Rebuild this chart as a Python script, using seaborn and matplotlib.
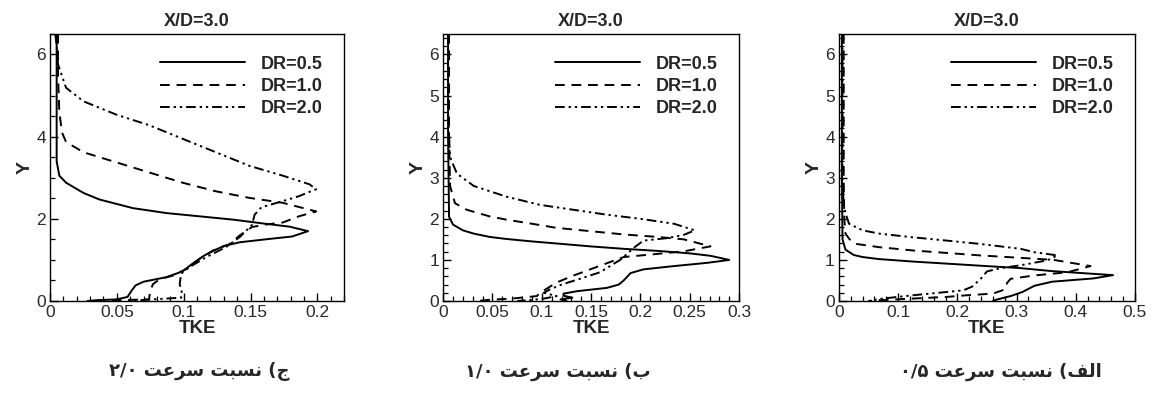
import matplotlib
matplotlib.use('Agg')
import matplotlib.pyplot as plt
from matplotlib.ticker import MultipleLocator
import seaborn as sns

# %% textos
titulo = 'X/D=3.0'
legendas = ['DR=0.5', 'DR=1.0', 'DR=2.0']
rotulo_x = 'TKE'
rotulo_y = 'Y'

# legendas em persa, ja em ordem visual (formas de apresentacao arabes)
nasbat = '\uFE96\uFE92\uFEB4\uFEE7'
sorat = '\uFE96\uFECB\uFEAE\uFEB3'
legenda_c = '\u06F2/\u06F0 ' + sorat + ' ' + nasbat + ' (\uFE9D'
legenda_b = '\u06F1/\u06F0 ' + sorat + ' ' + nasbat + ' (\uFE8F'
legenda_alef = '\u06F0/\u06F5 ' + sorat + ' ' + nasbat + ' (\uFED2\uFEDF\uFE8D'

# ticks do eixo x de cada painel
p1_xticks = ['0', '0.05', '0.1', '0.15', '0.2']
p2_xticks = ['0', '0.05', '0.1', '0.15', '0.2', '0.25', '0.3']
p3_xticks = ['0', '0.1', '0.2', '0.3', '0.4', '0.5']

# %% dados - painel 1 (razao de velocidade 2.0)
p1_dr05_tke = [0.005, 0.005, 0.005, 0.007, 0.012, 0.025, 0.037, 0.062, 0.087, 0.112, 0.137, 0.161, 0.179, 0.193,
               0.181, 0.161, 0.142, 0.130, 0.122, 0.115, 0.107, 0.099, 0.087, 0.070, 0.064, 0.061, 0.058, 0.050, 0.035, 0.028]
p1_dr05_y = [6.5, 5.0, 3.4, 3.05, 2.88, 2.63, 2.47, 2.26, 2.14, 2.06, 1.98, 1.88, 1.81, 1.70,
             1.57, 1.50, 1.43, 1.34, 1.22, 1.10, 0.92, 0.72, 0.58, 0.47, 0.38, 0.25, 0.10, 0.04, 0.02, 0.0]
p1_dr10_tke = [0.006, 0.006, 0.007, 0.009, 0.012, 0.025, 0.050, 0.074, 0.099, 0.124, 0.149, 0.174, 0.199,
               0.186, 0.174, 0.161, 0.151, 0.142, 0.134, 0.122, 0.112, 0.102, 0.092, 0.082, 0.077, 0.075, 0.074, 0.050, 0.032]
p1_dr10_y = [6.5, 5.5, 4.6, 4.1, 3.87, 3.62, 3.37, 3.13, 2.88, 2.67, 2.51, 2.39, 2.18,
             2.06, 1.91, 1.86, 1.80, 1.60, 1.38, 1.23, 1.03, 0.78, 0.62, 0.53, 0.41, 0.25, 0.04, 0.02, 0.0]
p1_dr20_tke = [0.004, 0.005, 0.006, 0.012, 0.025, 0.050, 0.074, 0.099, 0.124, 0.149, 0.174, 0.194, 0.199,
               0.186, 0.174, 0.158, 0.153, 0.151, 0.142, 0.132, 0.117, 0.104, 0.098, 0.097, 0.099, 0.098, 0.087, 0.067, 0.057]
p1_dr20_y = [6.5, 6.2, 5.76, 5.19, 4.86, 4.53, 4.28, 3.95, 3.62, 3.29, 3.05, 2.84, 2.72,
             2.55, 2.43, 2.28, 2.10, 1.85, 1.56, 1.32, 1.07, 0.82, 0.66, 0.41, 0.16, 0.08, 0.06, 0.02, 0.0]

# %% painel 2 (razao de velocidade 1.0)
p2_dr05_tke = [0.005, 0.005, 0.006, 0.010, 0.020, 0.031, 0.047, 0.064, 0.090, 0.115, 0.149, 0.183, 0.217, 0.250, 0.271, 0.290,
               0.268, 0.234, 0.203, 0.190, 0.183, 0.178, 0.166, 0.136, 0.122, 0.122, 0.131, 0.119, 0.125]
p2_dr05_y = [6.5, 4.0, 2.05, 1.86, 1.72, 1.64, 1.56, 1.51, 1.45, 1.40, 1.33, 1.27, 1.22, 1.16, 1.10, 1.00,
             0.93, 0.85, 0.77, 0.68, 0.50, 0.40, 0.32, 0.24, 0.18, 0.13, 0.08, 0.04, 0.0]
p2_dr10_tke = [0.006, 0.006, 0.007, 0.012, 0.024, 0.047, 0.064, 0.090, 0.115, 0.149, 0.183, 0.217, 0.244, 0.271,
               0.244, 0.210, 0.183, 0.166, 0.149, 0.130, 0.115, 0.105, 0.098, 0.095, 0.070, 0.047, 0.034]
p2_dr10_y = [6.5, 4.0, 2.8, 2.38, 2.22, 2.06, 1.98, 1.88, 1.78, 1.70, 1.62, 1.56, 1.50, 1.33,
             1.21, 1.13, 1.07, 0.92, 0.77, 0.60, 0.45, 0.30, 0.20, 0.12, 0.06, 0.03, 0.0]
p2_dr20_tke = [0.005, 0.005, 0.007, 0.014, 0.031, 0.064, 0.098, 0.132, 0.166, 0.200, 0.234, 0.255,
               0.244, 0.227, 0.203, 0.193, 0.180, 0.159, 0.140, 0.120, 0.108, 0.102, 0.115, 0.100, 0.075]
p2_dr20_y = [6.5, 4.5, 3.5, 3.1, 2.80, 2.54, 2.34, 2.22, 2.10, 2.00, 1.88, 1.72,
             1.61, 1.53, 1.47, 1.29, 1.01, 0.70, 0.55, 0.40, 0.28, 0.20, 0.12, 0.05, 0.0]

# %% painel 3 (razao de velocidade 0.5)
p3_dr05_tke = [0.005, 0.005, 0.006, 0.011, 0.025, 0.040, 0.068, 0.125, 0.182, 0.238, 0.307, 0.358, 0.410, 0.463,
               0.430, 0.360, 0.330, 0.310, 0.290, 0.265, 0.260]
p3_dr05_y = [6.5, 3.0, 1.5, 1.25, 1.12, 1.07, 1.02, 0.96, 0.91, 0.86, 0.80, 0.73, 0.68, 0.63,
             0.55, 0.47, 0.37, 0.22, 0.12, 0.03, 0.0]
p3_dr10_tke = [0.008, 0.008, 0.009, 0.011, 0.018, 0.029, 0.068, 0.125, 0.182, 0.238, 0.307, 0.363, 0.425,
               0.386, 0.329, 0.290, 0.284, 0.280, 0.260, 0.216, 0.182, 0.125, 0.068, 0.050]
p3_dr10_y = [6.5, 3.0, 2.0, 1.64, 1.50, 1.39, 1.31, 1.23, 1.17, 1.11, 1.05, 1.00, 0.85,
             0.70, 0.62, 0.54, 0.44, 0.28, 0.18, 0.14, 0.10, 0.06, 0.02, 0.0]
p3_dr20_tke = [0.006, 0.006, 0.008, 0.012, 0.017, 0.040, 0.068, 0.125, 0.182, 0.238, 0.307, 0.329, 0.369,
               0.352, 0.307, 0.273, 0.250, 0.240, 0.225, 0.210, 0.182, 0.125, 0.068, 0.050]
p3_dr20_y = [6.5, 3.0, 2.3, 2.1, 1.88, 1.72, 1.64, 1.55, 1.47, 1.39, 1.27, 1.19, 1.11,
             0.99, 0.87, 0.80, 0.72, 0.55, 0.35, 0.26, 0.22, 0.14, 0.05, 0.0]

# %% estilo
sns.set_theme(style='white')
plt.rcParams['font.family'] = ['Liberation Sans', 'DejaVu Sans']
plt.rcParams['axes.edgecolor'] = 'black'
plt.rcParams['axes.linewidth'] = 1.0

estilos = ['-', (0, (5, 3.5)), (0, (5, 2, 1.2, 2, 1.2, 2))]

paineis = [
    dict(pos=[0.0433, 0.236, 0.255, 0.678], xmax=0.22, xmin=0.01, ymaj=2, ymin=0.5, xt=p1_xticks,
         curvas=[(p1_dr05_tke, p1_dr05_y), (p1_dr10_tke, p1_dr10_y), (p1_dr20_tke, p1_dr20_y)],
         legenda=legenda_c, xcap=0.173),
    dict(pos=[0.384, 0.236, 0.2565, 0.678], xmax=0.3, xmin=0.01, ymaj=1, ymin=0.2, xt=p2_xticks,
         curvas=[(p2_dr05_tke, p2_dr05_y), (p2_dr10_tke, p2_dr10_y), (p2_dr20_tke, p2_dr20_y)],
         legenda=legenda_b, xcap=0.483),
    dict(pos=[0.727, 0.236, 0.2565, 0.678], xmax=0.5, xmin=0.02, ymaj=1, ymin=0.2, xt=p3_xticks,
         curvas=[(p3_dr05_tke, p3_dr05_y), (p3_dr10_tke, p3_dr10_y), (p3_dr20_tke, p3_dr20_y)],
         legenda=legenda_alef, xcap=0.867),
]

fig = plt.figure(figsize=(11.54, 3.94), dpi=100)

for p in paineis:
    ax = fig.add_axes(p['pos'])
    for (tke, yy), est, lab in zip(p['curvas'], estilos, legendas):
        sns.lineplot(x=tke, y=yy, sort=False, estimator=None, ax=ax, color='black',
                     linestyle=est, linewidth=1.4, label=lab)

    ax.set_xticks([float(s) for s in p['xt']], p['xt'])
    ax.xaxis.set_minor_locator(MultipleLocator(p['xmin']))
    ax.yaxis.set_major_locator(MultipleLocator(p['ymaj']))
    ax.yaxis.set_minor_locator(MultipleLocator(p['ymin']))
    ax.set_xlim(0, p['xmax'])
    ax.set_ylim(0, 6.5)
    # estilo white desliga os ticks, religar para dentro
    ax.tick_params(which='both', direction='in', bottom=True, left=True, top=False, right=False,
                   colors='black', labelsize=12.5, labelcolor='#2a2a2a')
    ax.tick_params(which='major', length=6, width=1)
    ax.tick_params(which='minor', length=3.5, width=0.9)
    ax.tick_params(axis='x', pad=3)
    ax.tick_params(axis='y', pad=3)

    ax.set_title(titulo, fontsize=13, fontweight='bold', pad=6)
    ax.set_xlabel(rotulo_x, fontsize=13.5, fontweight='bold', labelpad=0)
    ax.set_ylabel(rotulo_y, fontsize=14, fontweight='bold', labelpad=2)

    leg = ax.legend(loc='upper right', frameon=False, fontsize=13, handlelength=4.7,
                    handletextpad=0.85, labelspacing=0.3, borderaxespad=0.8)
    for t in leg.get_texts():
        t.set_fontweight('bold')

    fig.text(p['xcap'], 0.056, p['legenda'], ha='center', va='center', fontsize=13,
             fontweight='bold', family=['DejaVu Sans'])

fig.savefig('out.png', dpi=100)
